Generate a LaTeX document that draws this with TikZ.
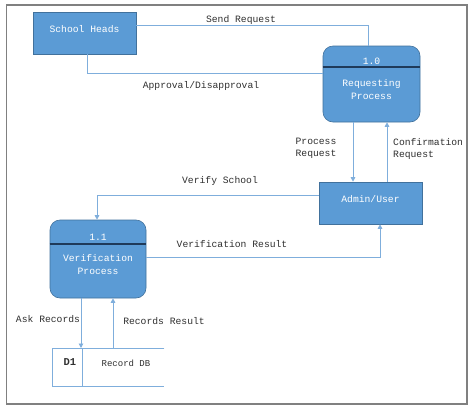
\documentclass[tikz,border=0pt]{standalone}
\usepackage{fontspec}
\newfontfamily\cour{Liberation Mono}
\usetikzlibrary{arrows.meta,calc}
\definecolor{boxfill}{HTML}{5B9BD5}
\definecolor{boxline}{HTML}{41719C}
\definecolor{flowc}{HTML}{7FAEDC}
\definecolor{divc}{HTML}{1F3A5A}
\definecolor{framec}{HTML}{808080}
\definecolor{txtc}{HTML}{303030}
\begin{document}
\begin{tikzpicture}[x=1pt,y=-1pt,
  entity/.style={draw=boxline,fill=boxfill,line width=0.6pt,inner sep=0pt},
  procbox/.style={entity,rounded corners=10pt},
  wtext/.style={text=white,font=\cour\fontsize{9.7}{13}\selectfont,inner sep=0pt,align=center},
  lbl/.style={text=txtc,font=\cour\fontsize{9.7}{12}\selectfont,inner sep=0pt},
  flow/.style={draw=flowc,line width=0.9pt},
  arr/.style={flow,-{Triangle[width=4.5pt,length=4.5pt]}},
  divline/.style={draw=divc,line width=1.1pt},
  storeline/.style={draw=flowc,line width=0.9pt}]
\useasboundingbox (0,0) rectangle (474,410);
\fill[white] (0,0) rectangle (474,410);
\draw[framec,line width=1.4pt] (6.5,5) rectangle (467,404);

% nodes
\node[entity,minimum width=103pt,minimum height=42pt] (sh) at (84.5,33) {};
\node[wtext] (sht) at (84.5,29) {School Heads};

\node[procbox,minimum width=97pt,minimum height=76pt] (p1) at (371.5,84) {};
\draw[divline] (p1.west |- 0,67) coordinate (p1dl) -- (p1.east |- 0,67) coordinate (p1dr);
\node[wtext] (p1n) at (371.5,61) {1.0};
\node[wtext] (p1t) at (371.5,90) {Requesting\\Process};

\node[entity,minimum width=103pt,minimum height=42pt] (ad) at (370.5,203) {};
\node[wtext] (adt) at (370.5,199) {Admin/User};

\node[procbox,minimum width=96pt,minimum height=78pt] (p2) at (98,259) {};
\draw[divline] (p2.west |- 0,244) coordinate (p2dl) -- (p2.east |- 0,244) coordinate (p2dr);
\node[wtext] (p2n) at (98,237) {1.1};
\node[wtext] (p2t) at (98,265) {Verification\\Process};

% data store
\node[minimum width=112pt,minimum height=38pt,inner sep=0pt,anchor=north west] (db) at (52,348) {};
\draw[storeline] (db.north east) -- (db.north west) -- (db.south west) -- (db.south east);
\draw[storeline] ($(db.north west)+(30,0)$) coordinate (dbd1) -- ($(db.south west)+(30,0)$) coordinate (dbd2);
\node[text=txtc,font=\cour\bfseries\fontsize{10.5}{12}\selectfont,inner sep=0pt] (d1) at (70,362) {D1};
\node[text=txtc,font=\cour\fontsize{9}{11}\selectfont,inner sep=0pt] (dbt) at (126,363) {Record DB};

% coordinates for connectors
\coordinate (srx) at (368,0);
\coordinate (apx) at (87,0);
\coordinate (prx) at (353,0);
\coordinate (crx) at (387,0);
\coordinate (vsx) at (97,0);
\coordinate (vrx) at (380,0);
\coordinate (akx) at (81,0);
\coordinate (rrx) at (113,0);

% connectors
\draw[flow] (sh.east |- 0,25) -| (srx |- p1.north);
\draw[flow] (apx |- sh.south) |- (p1.west |- 0,73);
\draw[arr] (prx |- p1.south) -- (prx |- ad.north);
\draw[arr] (crx |- ad.north) -- (crx |- p1.south);
\draw[arr] (ad.west |- 0,195) -| (vsx |- p2.north);
\draw[arr] (p2.east |- 0,257) -| (vrx |- ad.south);
\draw[arr] (akx |- p2.south) -- (akx |- db.north);
\draw[arr] (rrx |- db.north) -- (rrx |- p2.south);

% labels
\node[lbl] (l1) at (241,20) {Send Request};
\node[lbl] (l2) at (201,86) {Approval/Disapproval};
\node[lbl,align=center] (l3) at (316,148) {Process\\Request};
\node[lbl,align=left,anchor=west] (l4) at (393,149) {Confirmation\\Request};
\node[lbl] (l5) at (220,181) {Verify School};
\node[lbl] (l6) at (232,244) {Verification Result};
\node[lbl] (l7) at (48,319) {Ask Records};
\node[lbl] (l8) at (164,321) {Records Result};
\end{tikzpicture}
\end{document}
